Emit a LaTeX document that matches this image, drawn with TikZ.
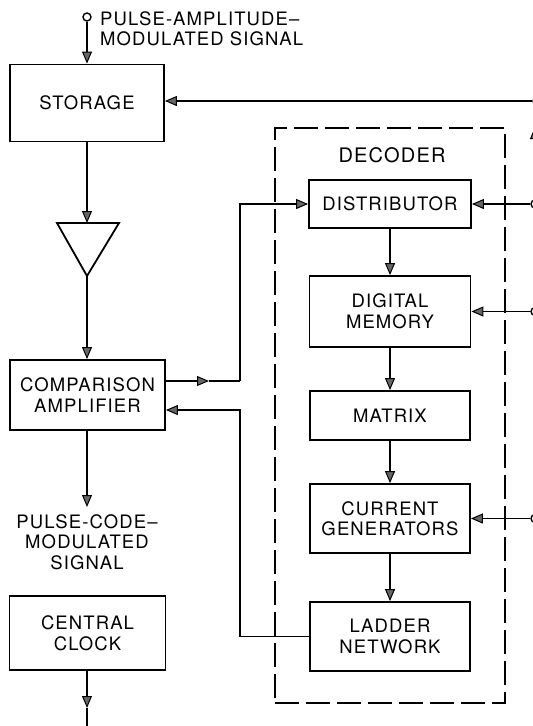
\documentclass[tikz,border=0pt]{standalone}
\usepackage{fontspec}
\newfontfamily\lab{TeX Gyre Heros}[LetterSpace=6]
\usetikzlibrary{arrows.meta}
\begin{document}
\begin{tikzpicture}[x=1pt,y=-1pt,
  txt/.style={font=\lab\fontsize{18.5}{20.5}\selectfont,align=center,inner sep=0pt},
  box/.style={txt,draw,line width=1.8pt},
  arr/.style={-{Triangle[length=12pt,width=10pt,fill=black!60,line width=1pt]}},
  wire/.style={line width=1.6pt},
  term/.style={circle,draw,line width=1.4pt,minimum size=8pt,inner sep=0pt},
]
\useasboundingbox (0,0) rectangle (533,726);
% left column
\node[term] (pamin) at (87,17) {};
\node[txt,anchor=west,align=left] (pamlab) at (100,29) {PULSE-AMPLITUDE–\\MODULATED SIGNAL};
\node[box,minimum width=154pt,minimum height=77pt] (store) at (87,103) {STORAGE};
\coordinate (triL) at (57,223);
\coordinate (triR) at (119,223);
\coordinate (triT) at (87,223);
\coordinate (triA) at (87,276);
\draw[line width=1.8pt,line join=miter] (triL) -- (triR) -- (triA) -- cycle;
\node[box,minimum width=155pt,minimum height=70pt] (comp) at (87.5,395) {COMPARISON\\AMPLIFIER};
\coordinate (pcmout) at (87,507);
\node[txt] (pcmlab) at (87,542) {PULSE-CODE–\\MODULATED\\SIGNAL};
\node[box,minimum width=156pt,minimum height=74pt] (clock) at (87.5,633) {CENTRAL\\CLOCK};
\coordinate (clkarr) at (87,708);
\coordinate (clkend) at (87,727);
% decoder
\node[draw,line width=1.7pt,dash pattern=on 24pt off 7pt,minimum width=230pt,minimum height=575pt,inner sep=0pt] (decoder) at (390,415.5) {};
\node[txt,font=\lab\fontsize{20}{22}\selectfont] (declab) at (392,155) {DECODER};
\node[box,minimum width=162pt,minimum height=48pt] (dist) at (390,204) {DISTRIBUTOR};
\node[box,minimum width=161pt,minimum height=71pt] (mem) at (390,311.5) {DIGITAL\\MEMORY};
\node[box,minimum width=160pt,minimum height=49pt] (matrix) at (390,415.5) {MATRIX};
\node[box,minimum width=160pt,minimum height=69pt] (cur) at (390,518.5) {CURRENT\\GENERATORS};
\node[box,minimum width=160pt,minimum height=69pt] (ladder) at (390,636.5) {LADDER\\NETWORK};
% right terminals
\node[term] (t0) at (537,101) {};
\node[term] (t1) at (535,204) {};
\node[term] (t2) at (535,311.5) {};
\node[term] (t3) at (535,518.5) {};
\coordinate (tr1) at (535,160);
\coordinate (tr2) at (535,127);
% junctions
\coordinate (j1) at (240,381);
\coordinate (cmid) at (209,381);
\coordinate (j2) at (240,410);
% connectors
\draw[wire,arr] (pamin) -- (pamin |- store.north);
\draw[wire,arr] (t0) -- (t0 -| store.east);
\draw[wire,arr] (store.south -| triT) -- (triT);
\draw[wire,arr] (triA) -- (triA |- comp.north);
\draw[wire,arr] (comp.south -| pcmout) -- (pcmout);
\draw[wire,arr] (clock.south -| clkarr) -- (clkarr);
\draw[wire] (clkarr) -- (clkend);
\draw[wire,arr] (comp.east |- cmid) -- (cmid);
\draw[wire] (cmid) -- (j1);
\draw[wire,arr] (j1) |- (dist.west);
\draw[wire,arr] (ladder.west) -| (j2) -- (j2 -| comp.east);
\draw[wire,arr] (dist) -- (mem);
\draw[wire,arr] (mem) -- (matrix);
\draw[wire,arr] (matrix) -- (cur);
\draw[wire,arr] (cur) -- (ladder);
\draw[wire,arr] (t1) -- (t1 -| dist.east);
\draw[wire,arr] (t2) -- (t2 -| mem.east);
\draw[wire,arr] (t3) -- (t3 -| cur.east);
\draw[wire,arr] (tr1) -- (tr2);
\end{tikzpicture}
\end{document}
